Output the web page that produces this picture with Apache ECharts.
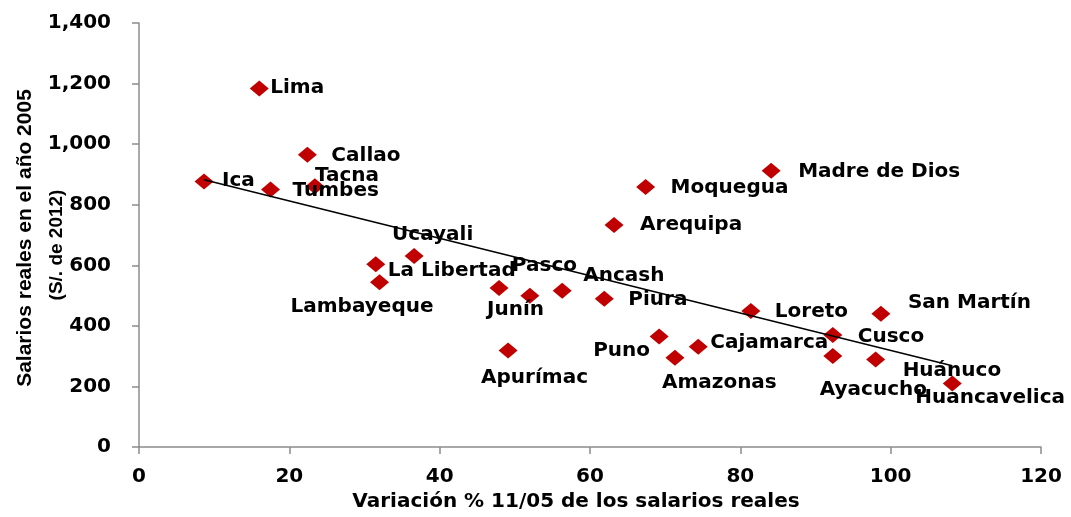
<!DOCTYPE html>
<html>
<head>
<meta charset="utf-8">
<script src="https://cdn.jsdelivr.net/npm/echarts@6/dist/echarts.min.js"></script>
<style>
html,body{margin:0;padding:0;background:#fff;}
#chart{width:1071px;height:517px;}
</style>
</head>
<body>
<div id="chart"></div>
<script>
// Data
var regions = ["Lima","Callao","Ica","Tumbes","Tacna","Moquegua","Arequipa","Madre de Dios","Ucayali","La Libertad","Lambayeque","Junín","Pasco","Ancash","Piura","Apurímac","Puno","Amazonas","Cajamarca","Loreto","San Martín","Cusco","Ayacucho","Huánuco","Huancavelica"];
var variacion = [16.0,22.4,8.65,17.5,23.4,67.4,63.2,84.1,36.6,31.5,32.0,47.9,52.0,56.3,61.9,49.1,69.2,71.3,74.4,81.4,98.7,92.3,92.3,98.0,108.2];
var salarios2005 = [1184,965,877,850,861,859,733,912,631,604,544,525,500,516,490,319,365,295,331,449,440,370,301,289,210];
var xTicks = [0,20,40,60,80,100,120];
var yTicks = [0,200,400,600,800,1000,1200,1400];

// Label placement (style only): [dx, dy] from marker centre to text left/middle
var labelOffsets = {
  "Lima":[11,-1],"Callao":[24,1],"Ica":[18,-1],"Tumbes":[22,1],"Tacna":[0,-10],
  "Moquegua":[25,1],"Arequipa":[26,0],"Madre de Dios":[27,1],"Ucayali":[-22,-21],
  "La Libertad":[12,7],"Lambayeque":[-89,24],"Junín":[-12,22],"Pasco":[-18,-30],
  "Ancash":[21,-15],"Piura":[24,1],"Apurímac":[-27,27],"Puno":[-66,14],
  "Amazonas":[-13,25],"Cajamarca":[12,-4],"Loreto":[24,1],"San Martín":[27,-11],
  "Cusco":[25,2],"Ayacucho":[-13,34],"Huánuco":[27,11],"Huancavelica":[-37,14]
};

// Least-squares trend line
var n = variacion.length, sx=0, sy=0, sxx=0, sxy=0;
for (var i=0;i<n;i++){ sx+=variacion[i]; sy+=salarios2005[i]; sxx+=variacion[i]*variacion[i]; sxy+=variacion[i]*salarios2005[i]; }
var slope = (n*sxy - sx*sy)/(n*sxx - sx*sx);
var intercept = (sy - slope*sx)/n;
var xmin = Math.min.apply(null, variacion), xmax = Math.max.apply(null, variacion);
var trend = [[xmin, intercept+slope*xmin],[xmax, intercept+slope*xmax]];

var pts = regions.map(function(r,i){
  return {name:r, value:[variacion[i], salarios2005[i]]};
});

var FONT = "DejaVu Sans";
var chart = echarts.init(document.getElementById('chart'), null, {renderer:'canvas'});
chart.setOption({
  animation:false,
  backgroundColor:'#fff',
  grid:{left:139, right:30, top:23, bottom:67, containLabel:false},
  xAxis:{
    type:'value', min:xTicks[0], max:xTicks[xTicks.length-1], interval:20,
    splitLine:{show:false},
    axisLine:{show:true, onZero:false, lineStyle:{color:'#8c8c8c', width:1.5}},
    axisTick:{show:true, inside:false, length:7, lineStyle:{color:'#8c8c8c', width:1.5}},
    axisLabel:{margin:20, color:'#000', fontFamily:FONT, fontWeight:'bold', fontSize:20},
    name:'Variación % 11/05 de los salarios reales', nameLocation:'middle', nameGap:44,
    nameTextStyle:{color:'#000', fontFamily:FONT, fontWeight:'bold', fontSize:20, padding:[0,28,0,0]}
  },
  yAxis:{
    type:'value', min:yTicks[0], max:yTicks[yTicks.length-1], interval:200,
    splitLine:{show:false},
    axisLine:{show:true, onZero:false, lineStyle:{color:'#8c8c8c', width:1.5}},
    axisTick:{show:true, inside:false, length:7, lineStyle:{color:'#8c8c8c', width:1.5}},
    axisLabel:{margin:28, color:'#000', fontFamily:FONT, fontWeight:'bold', fontSize:20,
      formatter:function(v){ return v.toLocaleString('en-US'); }}
  },
  graphic:[
    {type:'text', x:25, y:238, rotation:Math.PI/2,
      style:{text:'Salarios reales en el año 2005', fill:'#000', font:'bold 21px "Liberation Sans", Arial', textAlign:'center', textVerticalAlign:'middle'}},
    {type:'text', x:57, y:245, rotation:Math.PI/2,
      style:{text:'(S/. de 2012)', fill:'#000', font:'bold 19px "Liberation Sans", Arial', textAlign:'center', textVerticalAlign:'middle'}}
  ],
  series:[
    {
      type:'scatter', symbol:'diamond', symbolSize:[19,16], z:2,
      itemStyle:{color:'#C00000', opacity:1},
      label:{show:true, position:'inside', align:'left', verticalAlign:'middle',
        formatter:'{b}', color:'#000', opacity:1, textBorderWidth:0, fontFamily:FONT, fontWeight:'bold', fontSize:20},
      labelLayout:function(p){
        var off = labelOffsets[regions[p.dataIndex]] || [12,0];
        return {dx:off[0], dy:off[1], hideOverlap:false};
      },
      data:pts
    },
    {
      type:'line', data:trend, symbol:'none', z:3, silent:true,
      lineStyle:{color:'#000', width:1.5}
    }
  ]
});
</script>
</body>
</html>
